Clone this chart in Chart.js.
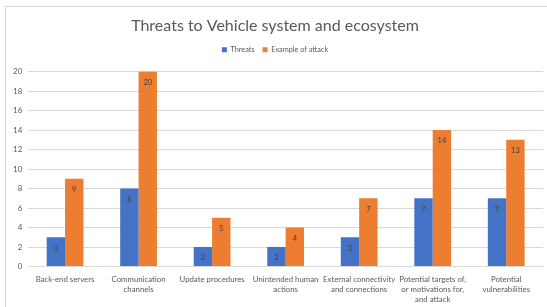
<!DOCTYPE html>
<html>
<head>
<meta charset="utf-8">
<script src="https://cdn.jsdelivr.net/npm/chart.js@4/dist/chart.umd.min.js"></script>
<style>
  body { margin: 0; background: #fff; }
  #frame { position: absolute; left: 5px; top: 6px; width: 560px; height: 320px; border: 1px solid #d9d9d9; }
  #wrap { position: absolute; left: 0; top: 0; width: 547px; height: 307px; }
</style>
</head>
<body>
<div id="frame"></div>
<div id="wrap"><canvas id="myChart"></canvas></div>
<script>
'use strict'

const categories = [
  'Back-end servers',
  ['Communication', 'channels'],
  'Update procedures',
  ['Unintended human', 'actions'],
  ['External connectivity', 'and connections'],
  ['Potential targets of,', 'or motivations for,', 'and attack'],
  ['Potential', 'vulnerabilities']
]
const threats = [3, 8, 2, 2, 3, 7, 7]
const examples = [9, 20, 5, 4, 7, 14, 13]
const yTicks = [0, 2, 4, 6, 8, 10, 12, 14, 16, 18, 20]

// value labels just under the top of each bar
const barLabels = {
  id: 'barLabels',
  afterDatasetsDraw(chart) {
    const ctx = chart.ctx
    ctx.save()
    ctx.font = '7.5px Lato'
    ctx.fillStyle = '#404040'
    ctx.textAlign = 'center'
    ctx.textBaseline = 'middle'
    chart.data.datasets.forEach((ds, i) => {
      chart.getDatasetMeta(i).data.forEach((bar, j) => {
        ctx.fillText(ds.data[j], bar.x, bar.y + 11)
      })
    })
    ctx.restore()
  }
}

// a bit more room under the legend
const legendGap = {
  id: 'legendGap',
  beforeInit(chart) {
    const fit = chart.legend.fit
    chart.legend.fit = function () {
      fit.bind(chart.legend)()
      this.height += 8
    }
  }
}

const ctx = document.getElementById('myChart')

new Chart(ctx, {
  type: 'bar',
  data: {
    labels: categories,
    datasets: [{
      label: 'Threats',
      data: threats,
      backgroundColor: '#4472c4'
    }, {
      label: 'Example of attack',
      data: examples,
      backgroundColor: '#ed7d31'
    }]
  },
  plugins: [barLabels, legendGap],
  options: {
    responsive: true,
    maintainAspectRatio: false,
    animation: false,
    categoryPercentage: 0.5,
    barPercentage: 1,
    layout: { padding: { left: 7, right: 4, top: 10, bottom: 2 } },
    plugins: {
      title: {
        display: true,
        text: 'Threats to Vehicle system and ecosystem',
        color: '#595959',
        font: { family: 'Lato', size: 16, weight: 'normal' },
        padding: { top: 6, bottom: 3 }
      },
      legend: {
        labels: {
          boxWidth: 5,
          boxHeight: 5,
          color: '#595959',
          font: { family: 'Lato', size: 7.3 },
          padding: 8
        }
      },
      tooltip: { enabled: false }
    },
    scales: {
      x: {
        grid: { display: false },
        border: { color: '#d9d9d9' },
        ticks: {
          color: '#595959',
          font: { family: 'Lato', size: 7.8, lineHeight: 1.3 },
          padding: 0,
          maxRotation: 0,
          autoSkip: false
        }
      },
      y: {
        min: 0,
        max: 20,
        afterBuildTicks(axis) {
          axis.ticks = yTicks.map(v => ({ value: v }))
        },
        grid: { color: '#d9d9d9', drawTicks: false },
        border: { display: false },
        ticks: {
          color: '#595959',
          font: { family: 'Lato', size: 8 },
          padding: 6
        }
      }
    }
  }
})
</script>
</body>
</html>
